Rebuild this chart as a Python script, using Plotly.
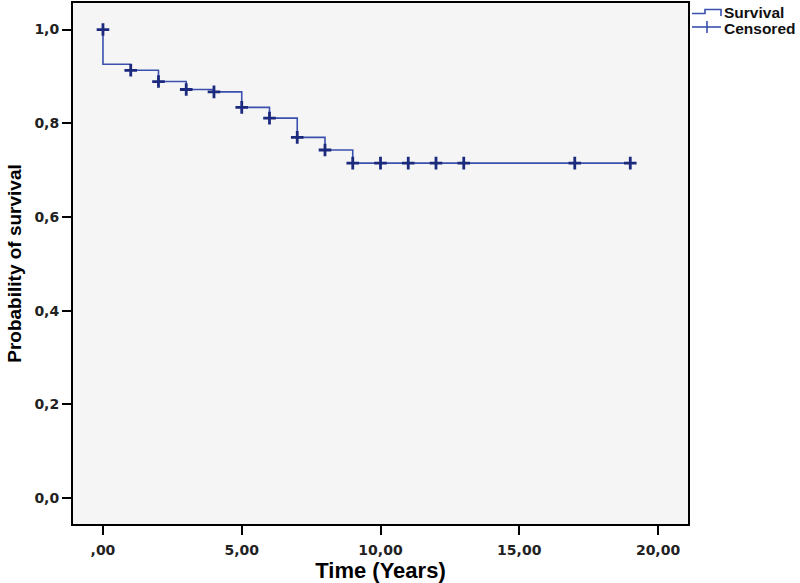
import plotly.graph_objects as go

# ---- data ----
step_times = [0, 0, 1, 2, 3, 4, 5, 6, 7, 8, 9, 19]
step_surv = [1.0, 0.926, 0.913, 0.889, 0.872, 0.867, 0.834, 0.811, 0.770, 0.743, 0.715, 0.715]

cens_times = [0, 1, 2, 3, 4, 5, 6, 7, 8, 9, 10, 11, 12, 13, 17, 19]
cens_surv = [1.0, 0.913, 0.889, 0.872, 0.867, 0.834, 0.811, 0.770, 0.743,
             0.715, 0.715, 0.715, 0.715, 0.715, 0.715, 0.715]

x_tickvals = [0, 5, 10, 15, 20]
x_ticktext = [",00", "5,00", "10,00", "15,00", "20,00"]
y_tickvals = [0.0, 0.2, 0.4, 0.6, 0.8, 1.0]
y_ticktext = ["0,0", "0,2", "0,4", "0,6", "0,8", "1,0"]

LINE_COL = "#3a50ae"
MARK_COL = "#1c2a7e"
TICK_FONT = "DejaVu Sans"
TITLE_FONT = "Liberation Sans"

fig = go.Figure()
fig.add_trace(go.Scatter(
    x=step_times, y=step_surv, mode="lines", line_shape="hv",
    line=dict(color=LINE_COL, width=1.6), name="Survival", showlegend=False,
    hoverinfo="skip"))
fig.add_trace(go.Scatter(
    x=cens_times, y=cens_surv, mode="markers", name="Censored", showlegend=False,
    marker=dict(symbol="cross-thin", size=9, line=dict(color=MARK_COL, width=2.8))))

W, H = 800, 583
L, R, T, B = 73, 112, 3, 59

fig.update_layout(
    width=W, height=H,
    margin=dict(l=L, r=R, t=T, b=B, autoexpand=False),
    paper_bgcolor="white", plot_bgcolor="#f5f5f5",
    font=dict(family=TICK_FONT, color="black"),
    xaxis=dict(range=[-1.08, 21.08], tickvals=x_tickvals, ticktext=x_ticktext,
               showgrid=False, zeroline=False, showline=True, mirror=True,
               linecolor="black", linewidth=2, ticks="outside", ticklen=9,
               tickwidth=2, tickcolor="black", ticklabelstandoff=3,
               tickfont=dict(family=TICK_FONT, size=14, color="#222", weight="bold"),
               title=dict(text="Time (Years)", standoff=6,
                          font=dict(family=TITLE_FONT, size=22, weight="bold"))),
    yaxis=dict(range=[-0.055, 1.0566], tickvals=y_tickvals, ticktext=y_ticktext,
               showgrid=False, zeroline=False, showline=True, mirror=True,
               linecolor="black", linewidth=2, ticks="outside", ticklen=9,
               tickwidth=2, tickcolor="black", ticklabelstandoff=0,
               tickfont=dict(family=TICK_FONT, size=14, color="#222", weight="bold"),
               title=dict(text="Probability of survival", standoff=8,
                          font=dict(family=TITLE_FONT, size=19, weight="bold"))),
)

# ---- manual legend (decoration, pixel positions converted to paper coords) ----
def px(xp):
    return (xp - L) / (W - L - R)

def py(yp):
    return 1 - (yp - T) / (H - T - B)

fig.add_shape(type="path", xref="paper", yref="paper",
              path=f"M {px(692)} {py(13.5)} L {px(705)} {py(13.5)} L {px(705)} {py(9.5)} "
                   f"L {px(721)} {py(9.5)} L {px(721)} {py(16)}",
              line=dict(color=LINE_COL, width=1.6))
fig.add_shape(type="line", xref="paper", yref="paper",
              x0=px(692), x1=px(721), y0=py(27), y1=py(27),
              line=dict(color=LINE_COL, width=1.6))
fig.add_shape(type="line", xref="paper", yref="paper",
              x0=px(707), x1=px(707), y0=py(21), y1=py(33),
              line=dict(color=LINE_COL, width=1.6))
fig.add_annotation(xref="paper", yref="paper", x=px(722), y=py(12.5), text="Survival",
                   showarrow=False, xanchor="left", yanchor="middle",
                   font=dict(family=TITLE_FONT, size=15.5, weight="bold", color="#111"))
fig.add_annotation(xref="paper", yref="paper", x=px(722), y=py(28), text="Censored",
                   showarrow=False, xanchor="left", yanchor="middle",
                   font=dict(family=TITLE_FONT, size=15.5, weight="bold", color="#111"))

fig.write_html("out.html", config={"displayModeBar": False},
               post_script="document.body.style.margin='0px';")
